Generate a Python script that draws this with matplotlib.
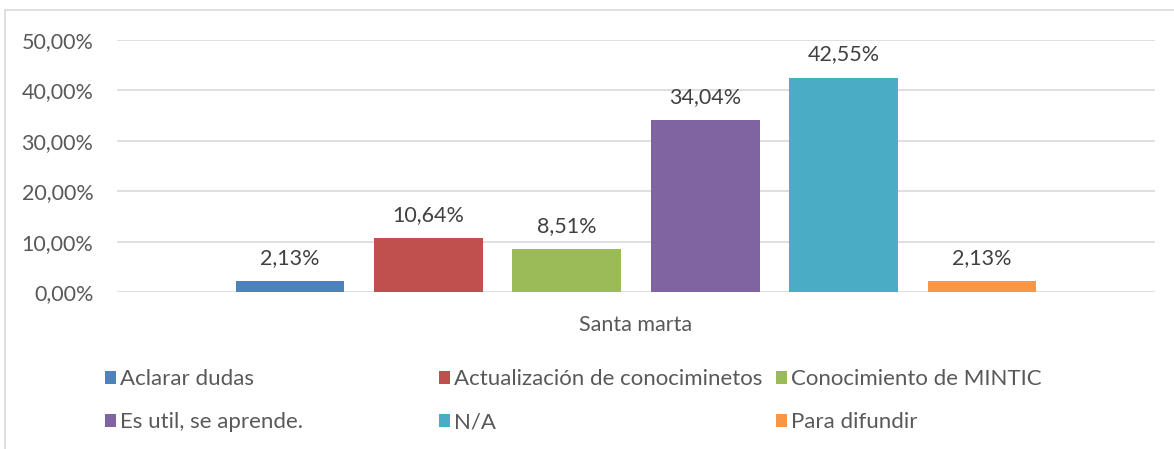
"""Santa marta: survey response shares, clustered column chart."""

import matplotlib

matplotlib.use("Agg")
import matplotlib.pyplot as plt
from matplotlib.patches import Rectangle
from matplotlib.ticker import FuncFormatter


categories = [
    "Aclarar dudas",
    "Actualización de conociminetos",
    "Conocimiento de MINTIC",
    "Es util, se aprende.",
    "N/A",
    "Para difundir",
]
values = [0.0213, 0.1064, 0.0851, 0.3404, 0.4255, 0.0213]
value_labels = ["2,13%", "10,64%", "8,51%", "34,04%", "42,55%", "2,13%"]
group_label = "Santa marta"
yticks = [0.0, 0.1, 0.2, 0.3, 0.4, 0.5]

colors = ["#4F81BD", "#C0504D", "#9BBB59", "#8064A2", "#4BACC6", "#F79646"]

plt.rcParams.update(
    {
        "font.family": ["Lato", "DejaVu Sans"],
        "font.size": 15,
    }
)
FS = 15.5

W, H = 1174, 449
fig = plt.figure(figsize=(W / 100, H / 100), dpi=100)
ax = fig.add_axes([117 / W, 1 - 292 / H, (1155 - 117) / W, (292 - 40) / H])

# outer chart frame, cut off at right and bottom like the screenshot
fig.patches.append(
    Rectangle((5 / W, -0.05), 1.2, 1 - 10 / H + 0.05, transform=fig.transFigure,
              fill=False, edgecolor="#d9d9d9", linewidth=1.2)
)

x = list(range(len(values)))
bars = ax.bar(x, values, width=0.787, color=colors, zorder=3)

for xi, v, lab in zip(x, values, value_labels):
    ax.text(xi, v + 0.026, lab, ha="center", va="bottom", fontsize=FS, color="#404040")

ax.set_xlim(-1.25, 6.25)
ax.set_ylim(0, 0.5)
ax.set_yticks(yticks)
ax.yaxis.set_major_formatter(FuncFormatter(lambda v, _: f"{v * 100:.2f}%".replace(".", ",")))
ax.grid(axis="y", color="#d9d9d9", linewidth=1.2, zorder=0)
ax.tick_params(axis="y", length=0, pad=17, labelsize=FS, labelcolor="#595959")
ax.set_xticks([])
for side in ["top", "right", "left", "bottom"]:
    ax.spines[side].set_visible(False)

fig.text(636 / W, 1 - 325 / H, group_label, ha="center", va="center",
         fontsize=FS, color="#595959")

# legend: Excel-style equal columns, two rows
col_x = [94 / W, 428 / W, 765 / W]
for c in range(3):
    leg = fig.legend(
        handles=[bars[c], bars[c + 3]],
        labels=[categories[c], categories[c + 3]],
        loc="upper left",
        bbox_to_anchor=(col_x[c], 1 - 358 / H),
        frameon=False,
        fontsize=16,
        handlelength=0.5,
        handleheight=0.5,
        handletextpad=0.18,
        labelspacing=1.05,
        borderpad=0,
    )
    for t in leg.get_texts():
        t.set_color("#595959")

fig.savefig("out.png", dpi=100, facecolor="white")
